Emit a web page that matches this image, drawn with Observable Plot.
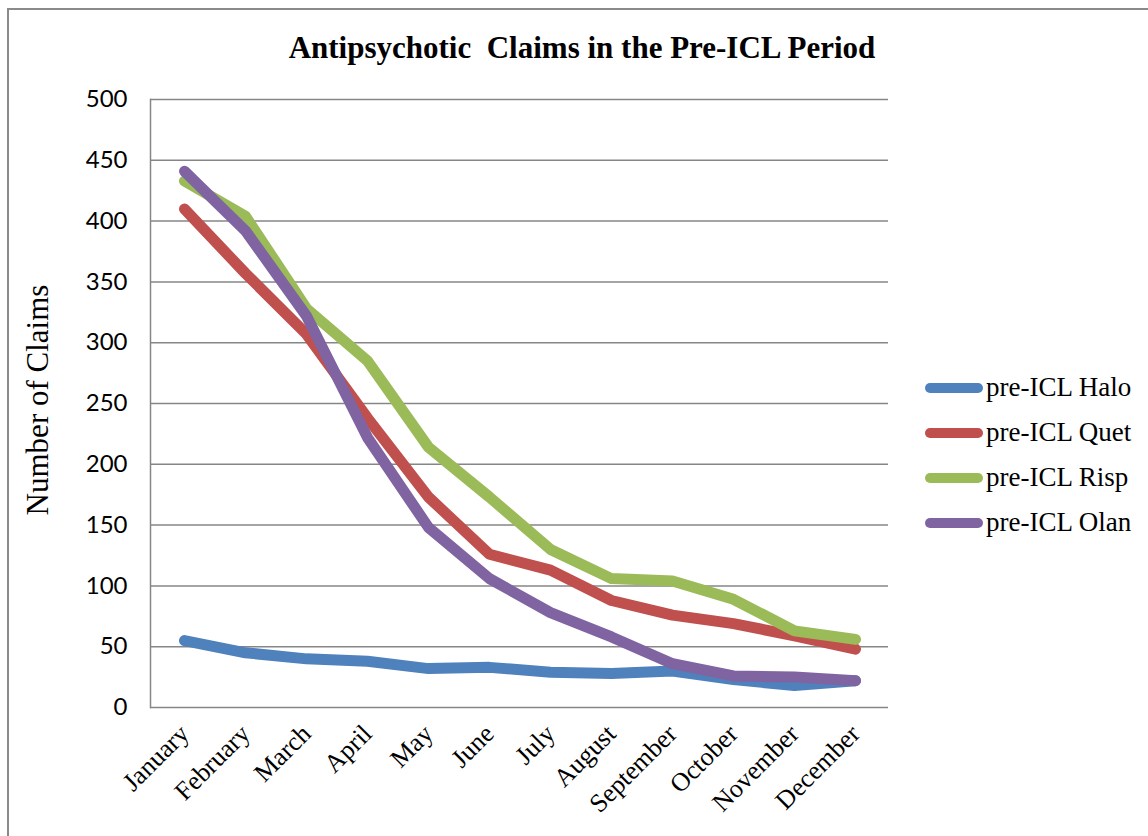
<!DOCTYPE html>
<html>
<head>
<meta charset="utf-8">
<script src="https://cdn.jsdelivr.net/npm/d3@7"></script>
<script src="https://cdn.jsdelivr.net/npm/@observablehq/plot@0.6"></script>
<style>
  html, body { margin: 0; padding: 0; background: #fff; }
  #wrap { position: relative; width: 1148px; height: 836px; overflow: hidden; background: #fff; }
  #border { position: absolute; left: 7px; top: 8px; width: 1200px; height: 900px; border-left: 2px solid #8a8a8a; border-top: 2px solid #8a8a8a; box-sizing: border-box; }
  #chart { position: absolute; left: 0; top: 0; }
  #title { position: absolute; left: 232px; width: 700px; top: 32px; text-align: center; font: bold 31px "Liberation Serif", "Times New Roman", serif; line-height: 1; white-space: nowrap; color: #000; }
  #ylabel { position: absolute; left: 37px; top: 400px; transform: translate(-50%, -50%) rotate(-90deg); font: 31px "Liberation Serif", "Times New Roman", serif; white-space: nowrap; line-height: 1; color: #000; }
  #legend { position: absolute; left: 925px; top: 365px; font: 27px "Liberation Serif", "Times New Roman", serif; color: #000; }
  .item { display: flex; align-items: center; height: 45px; white-space: nowrap; }
  .sw { width: 58px; height: 10px; border-radius: 5px; margin-right: 3px; }
</style>
</head>
<body>
<div id="wrap">
  <div id="border"></div>
  <div id="chart"></div>
  <div id="title">Antipsychotic&nbsp; Claims in the Pre-ICL Period</div>
  <div id="ylabel">Number of Claims</div>
  <div id="legend"></div>
</div>
<script>
const months = ["January","February","March","April","May","June","July","August","September","October","November","December"];
const seriesNames = ["pre-ICL Halo","pre-ICL Quet","pre-ICL Risp","pre-ICL Olan"];
const halo = [55, 45, 40, 38, 32, 33, 29, 28, 30, 23, 18, 22];
const quet = [410, 357, 307, 238, 173, 126, 113, 88, 76, 69, 59, 48];
const risp = [433, 404, 328, 285, 214, 173, 130, 106, 104, 89, 63, 56];
const olan = [441, 392, 322, 222, 148, 106, 78, 58, 36, 26, 25, 22];
const colors = ["#4F81BD", "#C0504D", "#9BBB59", "#8064A2"];
const yTicks = [0, 50, 100, 150, 200, 250, 300, 350, 400, 450, 500];

const seriesValues = [halo, quet, risp, olan];
const tables = seriesValues.map((vals, i) => vals.map((v, j) => ({month: months[j], value: v, series: seriesNames[i]})));

const serif = "'Liberation Serif', 'Times New Roman', serif";

const chart = Plot.plot({
  width: 1148,
  height: 836,
  marginLeft: 150,
  marginRight: 260,
  marginTop: 99,
  marginBottom: 129,
  style: { background: "transparent", fontFamily: serif, color: "#000", overflow: "visible" },
  x: { type: "point", domain: months, padding: 0.5 },
  y: { domain: [0, 500] },
  marks: [
    Plot.gridY(yTicks, { stroke: "#868686", strokeOpacity: 1, strokeWidth: 1.5 }),
    Plot.frame({ anchor: "left", stroke: "#868686", strokeWidth: 1.5 }),
    Plot.axisY({ ticks: yTicks, tickSize: 0, tickPadding: 23, fontFamily: "Lato, 'Open Sans', sans-serif", fontSize: 24, label: null }),
    Plot.axisX({ tickSize: 0, tickRotate: -45, tickPadding: 22, fontFamily: serif, fontSize: 26, label: null }),
    ...tables.map((t, i) => Plot.line(t, { x: "month", y: "value", stroke: colors[i], strokeWidth: 11, strokeLinecap: "round", strokeLinejoin: "round" }))
  ]
});
document.getElementById("chart").appendChild(chart);

const legend = document.getElementById("legend");
seriesNames.forEach((name, i) => {
  const item = document.createElement("div");
  item.className = "item";
  const sw = document.createElement("div");
  sw.className = "sw";
  sw.style.background = colors[i];
  const label = document.createElement("span");
  label.textContent = name;
  item.appendChild(sw);
  item.appendChild(label);
  legend.appendChild(item);
});
</script>
</body>
</html>
